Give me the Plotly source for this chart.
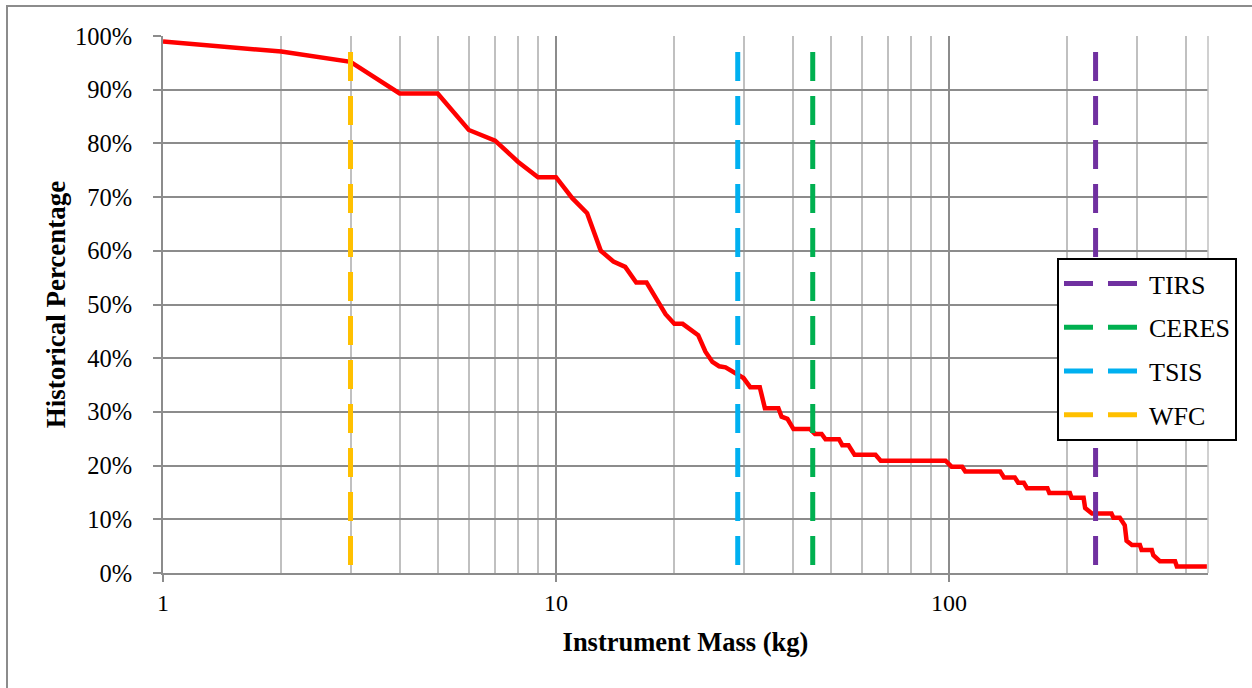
import math
import plotly.graph_objects as go

# ---- data ----
mass_kg = [1, 2, 3, 4, 5, 6, 7, 8, 9, 10, 11, 12, 13, 14, 15, 16, 17, 19, 20, 21,
           23, 24, 25, 26, 27, 28.3, 30, 31.2, 33, 34, 36.8, 37.5, 38.8, 40.2, 44.3,
           45.6, 47.4, 48.5, 52.5, 53.5, 55.5, 57.5, 65, 67, 98, 101.5, 108, 110,
           135, 138, 147, 150, 155, 158, 178, 180, 203, 205, 220, 222, 231, 259,
           262, 272, 280, 283, 292, 306, 309, 328, 331, 344, 376, 380, 453]
hist_pct = [99.0, 97.1, 95.2, 89.3, 89.3, 82.5, 80.5, 76.6, 73.7, 73.7, 69.8, 67.0,
            60.0, 58.0, 57.0, 54.1, 54.1, 48.2, 46.4, 46.4, 44.3, 41.2, 39.3, 38.5,
            38.3, 37.5, 36.3, 34.6, 34.6, 30.7, 30.7, 29.1, 28.7, 26.8, 26.8, 25.9,
            25.9, 24.9, 24.9, 23.8, 23.8, 22.0, 22.0, 20.9, 20.9, 19.8, 19.8, 18.9,
            18.9, 17.8, 17.8, 16.8, 16.8, 15.8, 15.8, 14.9, 14.9, 14.0, 14.0, 12.1,
            11.1, 11.1, 10.3, 10.3, 8.9, 6.0, 5.2, 5.2, 4.3, 4.3, 3.3, 2.2, 2.2,
            1.2, 1.2]

instruments = ["TIRS", "CERES", "TSIS", "WFC"]
instrument_mass = [236, 45, 29, 3]
instrument_colors = ["#7030A0", "#00B050", "#00B0F0", "#FFC000"]
marker_top_pct = 97

x_major = [1, 10, 100]
x_minor = [2, 3, 4, 5, 6, 7, 8, 9, 20, 30, 40, 50, 60, 70, 80, 90, 200, 300, 400]
x_max = 456

FONT = "Liberation Serif, Times New Roman, serif"

fig = go.Figure()

fig.add_trace(go.Scatter(
    x=mass_kg, y=[p / 100 for p in hist_pct], mode="lines",
    line=dict(color="#FF0000", width=4.5), showlegend=False, hoverinfo="skip"))

for name, m, c in zip(instruments, instrument_mass, instrument_colors):
    fig.add_trace(go.Scatter(
        x=[m, m], y=[marker_top_pct / 100, 0], mode="lines", name=name,
        legendgroup=name,
        line=dict(color=c, width=5, dash="29px,15px")))

fig.update_layout(
    width=1252, height=688, autosize=False,
    margin=dict(l=163, r=44, t=36, b=115),
    paper_bgcolor="white", plot_bgcolor="white",
    font=dict(family=FONT, size=24, color="black"),
    legend=dict(x=0.8555, y=0.5866, xanchor="left", yanchor="top",
                bgcolor="white", bordercolor="black", borderwidth=2,
                font=dict(family=FONT, size=26, color="black"),
                itemwidth=80, tracegroupgap=7, traceorder="grouped"),
    xaxis=dict(type="log", range=[0, math.log10(x_max)],
               tickmode="array", tickvals=x_major,
               ticktext=[str(v) for v in x_major],
               showgrid=True, gridcolor="#8c8c8c", gridwidth=1.5,
               ticks="outside", ticklen=7, tickcolor="#8c8c8c", tickwidth=1.5,
               showline=True, linecolor="#8c8c8c", linewidth=2,
               minor=dict(tickmode="array", tickvals=x_minor, showgrid=True,
                          gridcolor="#c0c0c0", gridwidth=1.5, ticks=""),
               zeroline=False,
               tickfont=dict(family=FONT, size=24),
               title=dict(text="<b>Instrument Mass (kg)</b>", standoff=18,
                          font=dict(family=FONT, size=26.5))),
    yaxis=dict(range=[0, 1], tickmode="linear", tick0=0, dtick=0.1,
               tickformat=".0%", showgrid=True, gridcolor="#8c8c8c",
               gridwidth=1.5, ticks="outside", ticklen=8, tickcolor="#8c8c8c",
               tickwidth=1.5, showline=True, linecolor="#8c8c8c", linewidth=2,
               zeroline=False, ticklabelstandoff=16,
               tickfont=dict(family=FONT, size=24.5),
               title=dict(text="<b>Historical Percentage</b>", standoff=1,
                          font=dict(family=FONT, size=27))),
    shapes=[
        dict(type="line", xref="paper", yref="paper", x0=1, x1=1, y0=0, y1=1,
             line=dict(color="#c0c0c0", width=1.5)),
        dict(type="rect", xref="paper", yref="paper",
             x0=(7 - 163) / 1045, x1=1.06, y0=-0.25, y1=(573 - 6) / 537,
             line=dict(color="#8c8c8c", width=2), layer="below"),
    ],
)

fig.write_html("out.html")
